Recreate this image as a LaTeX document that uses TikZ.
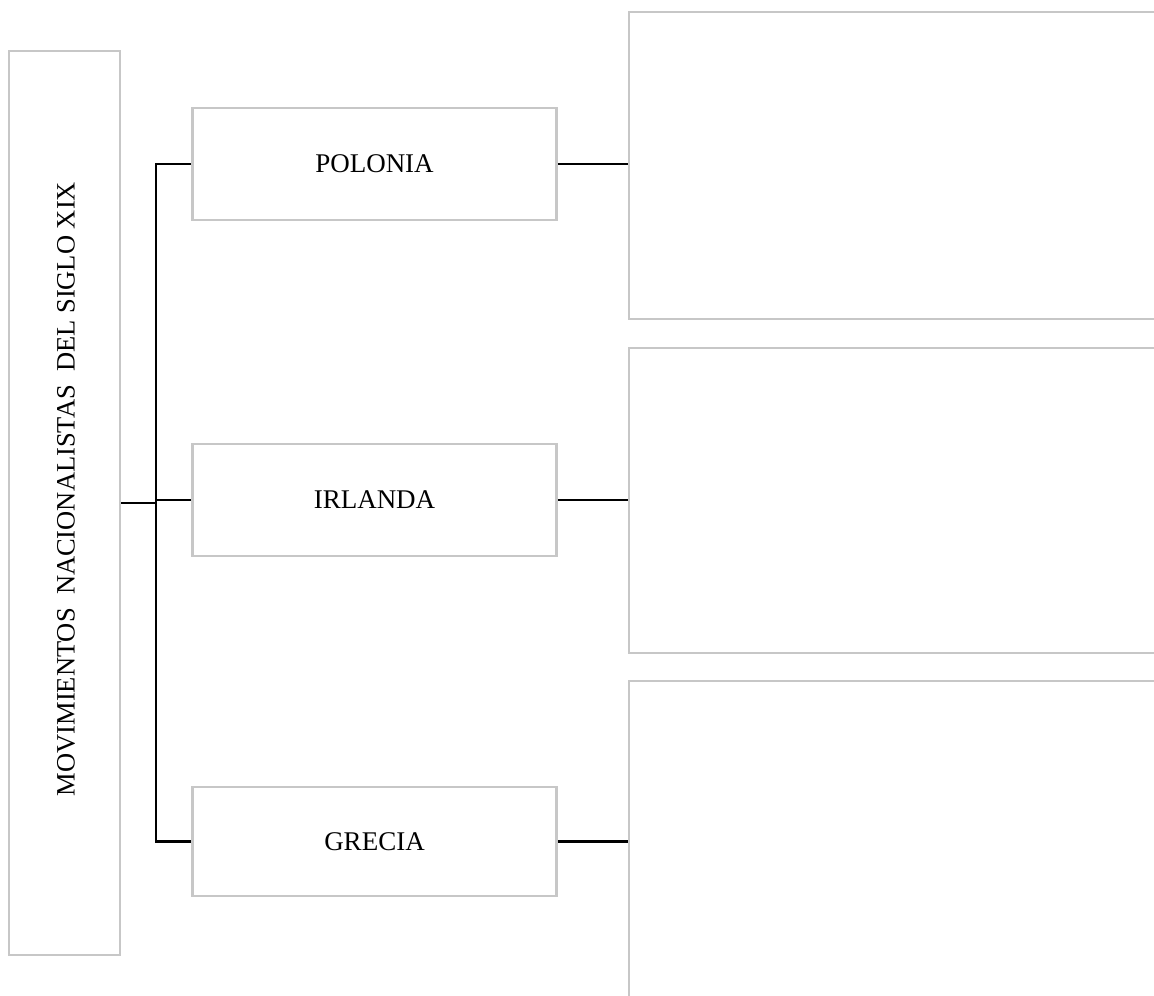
\documentclass[tikz,border=0pt]{standalone}
\usepackage{fontspec}
\setmainfont{Liberation Serif}
\begin{document}
\begin{tikzpicture}[x=1pt,y=-1pt,
  box/.style={draw=black!22, line width=2.6pt, fill=white, inner sep=0pt},
  lbl/.style={font=\fontsize{27}{31}\selectfont, text=black},
  vlbl/.style={font=\fontsize{26.5}{31}\selectfont, text=black},
  conn/.style={draw=black, line width=2.6pt}]
\useasboundingbox (0,0) rectangle (1154,996);
\clip (0,0) rectangle (1154,996);
% boxes
\node[box, minimum width=111pt, minimum height=904pt] (main) at (64.5,503) {};
\node[vlbl, rotate=90] (maintext) at (66,489) {MOVIMIENTOS\ \ NACIONALISTAS\ \ DEL SIGLO XIX};
\node[box, lbl, minimum width=364pt, minimum height=112pt] (pol) at (374.5,164) {POLONIA};
\node[box, lbl, minimum width=364pt, minimum height=112pt] (irl) at (374.5,500) {IRLANDA};
\node[box, lbl, minimum width=364pt, minimum height=109pt] (gre) at (374.5,841.5) {GRECIA};
\node[box, minimum width=571pt, minimum height=307pt] (r1) at (914.5,165.5) {};
\node[box, minimum width=571pt, minimum height=305pt] (r2) at (914.5,500.5) {};
\node[box, minimum width=571pt, minimum height=419pt] (r3) at (914.5,890.5) {};
% connectors
\coordinate (j) at (156,503);
\draw[conn] (main.east) -- (j);
\draw[conn] (j) |- (pol.west);
\draw[conn] (j) |- (gre.west);
\draw[conn] (j |- irl.west) -- (irl.west);
\draw[conn] (pol.east) -- (pol.east -| r1.west);
\draw[conn] (irl.east) -- (irl.east -| r2.west);
\draw[conn] (gre.east) -- (gre.east -| r3.west);
\end{tikzpicture}
\end{document}
